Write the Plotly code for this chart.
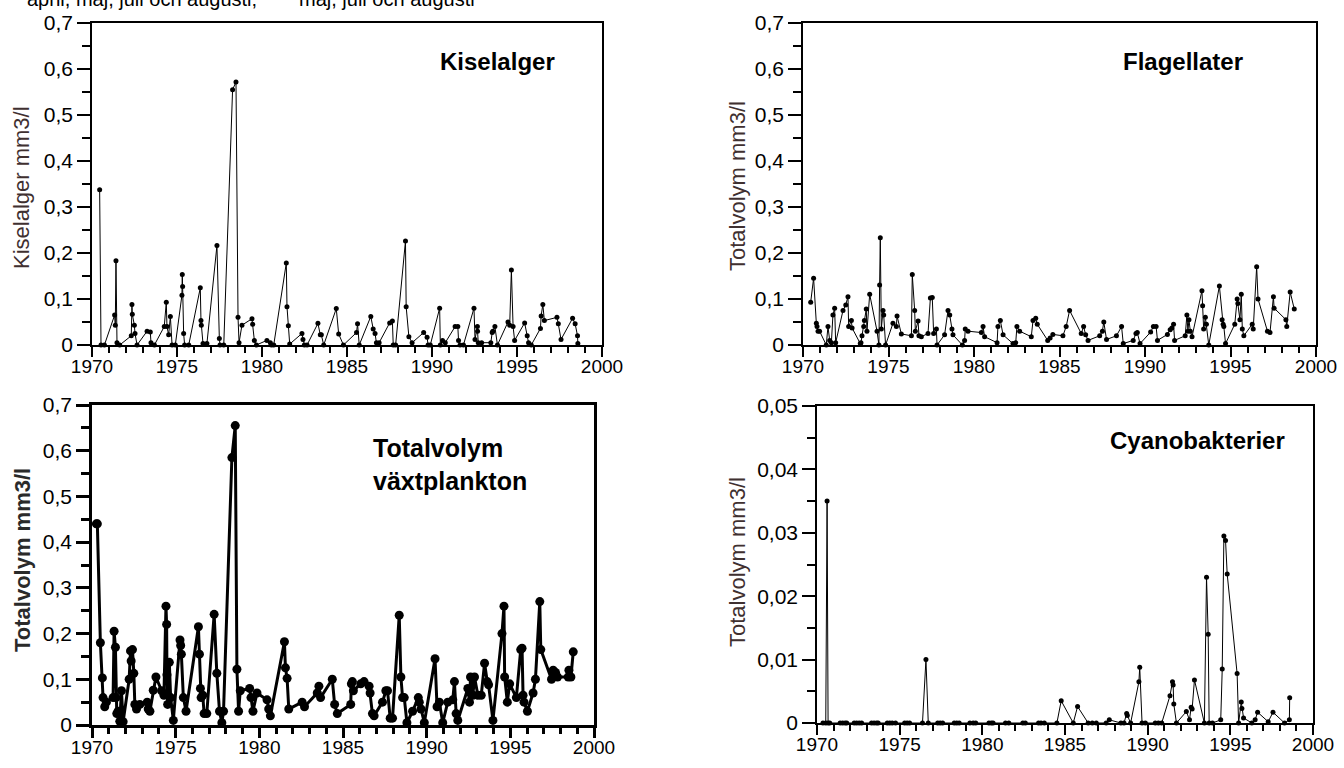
import plotly.graph_objects as go

# ---------------- data ----------------
kisel_year = [
    1970.45, 1970.53, 1970.73,
    1971.33, 1971.37, 1971.41, 1971.47, 1971.63,
    1972.31, 1972.35, 1972.37, 1972.49, 1972.53, 1972.65,
    1973.24, 1973.43, 1973.47, 1973.67,
    1974.25, 1974.37, 1974.41, 1974.51, 1974.61, 1974.71, 1974.90,
    1975.29, 1975.31, 1975.33, 1975.39, 1975.45, 1975.69,
    1976.37, 1976.41, 1976.43, 1976.53, 1976.76,
    1977.35, 1977.49, 1977.53, 1977.75,
    1978.27, 1978.47, 1978.59, 1978.65, 1978.82,
    1979.41, 1979.45, 1979.55, 1979.67,
    1980.29, 1980.49, 1980.55, 1980.69,
    1981.43, 1981.47, 1981.55, 1981.63,
    1982.35, 1982.41, 1982.49, 1982.65,
    1983.29, 1983.43, 1983.49, 1983.63,
    1984.37, 1984.51, 1984.79,
    1985.56, 1985.62, 1985.72,
    1986.40, 1986.54, 1986.65, 1986.73, 1986.89,
    1987.51, 1987.67, 1987.72, 1987.86,
    1988.44, 1988.48, 1988.64, 1988.83,
    1989.51, 1989.71, 1989.77, 1989.90,
    1990.45, 1990.49, 1990.62, 1990.78,
    1991.36, 1991.52, 1991.56, 1991.65, 1991.85,
    1992.47, 1992.53, 1992.67, 1992.68, 1992.72, 1992.92,
    1993.46, 1993.54, 1993.58, 1993.70, 1993.85,
    1994.47, 1994.57, 1994.67, 1994.77, 1994.86,
    1995.45, 1995.60, 1995.68, 1995.84,
    1996.38, 1996.42, 1996.52, 1996.61,
    1997.35, 1997.43, 1997.59,
    1998.27, 1998.42, 1998.56, 1998.58,
]
kisel_val = [
    0.337, 0.0, 0.0,
    0.065, 0.043, 0.183, 0.005, 0.0,
    0.02, 0.088, 0.067, 0.043, 0.025, 0.0,
    0.03, 0.028, 0.005, 0.0,
    0.04, 0.093, 0.04, 0.022, 0.062, 0.0, 0.0,
    0.108, 0.153, 0.127, 0.025, 0.0, 0.0,
    0.124, 0.053, 0.043, 0.003, 0.003,
    0.216, 0.014, 0.0, 0.0,
    0.554, 0.571, 0.06, 0.005, 0.043,
    0.057, 0.045, 0.01, 0.0,
    0.01, 0.005, 0.0, 0.0,
    0.178, 0.083, 0.042, 0.002,
    0.025, 0.012, 0.0, 0.0,
    0.047, 0.022, 0.022, 0.0,
    0.079, 0.024, 0.0,
    0.027, 0.046, 0.0,
    0.062, 0.035, 0.025, 0.005, 0.005,
    0.048, 0.052, 0.0, 0.0,
    0.226, 0.083, 0.018, 0.005,
    0.027, 0.017, 0.0, 0.0,
    0.08, 0.0, 0.01, 0.005,
    0.04, 0.04, 0.01, 0.0, 0.0,
    0.08, 0.012, 0.04, 0.03, 0.005, 0.005,
    0.005, 0.027, 0.03, 0.04, 0.0,
    0.05, 0.043, 0.163, 0.04, 0.01,
    0.048, 0.02, 0.005, 0.0,
    0.036, 0.063, 0.088, 0.053,
    0.06, 0.046, 0.012,
    0.058, 0.046, 0.02, 0.003,
]

flag_year = [
    1970.45, 1970.62, 1970.78, 1970.82, 1970.88, 1970.97,
    1971.36, 1971.46, 1971.56, 1971.66, 1971.75, 1971.85, 1971.91,
    1972.34, 1972.50, 1972.63, 1972.67, 1972.83, 1972.87,
    1973.35, 1973.39, 1973.45, 1973.55, 1973.59, 1973.70, 1973.74, 1973.90,
    1974.33, 1974.44, 1974.48, 1974.52, 1974.58, 1974.68, 1974.72, 1974.83,
    1975.26, 1975.46, 1975.50, 1975.75,
    1976.34, 1976.39, 1976.53, 1976.57, 1976.73, 1976.78, 1976.92,
    1977.31, 1977.45, 1977.56, 1977.64, 1977.80, 1977.84,
    1978.28, 1978.48, 1978.58, 1978.71, 1978.77,
    1979.32, 1979.45, 1979.49, 1979.65,
    1980.43, 1980.53, 1980.62,
    1981.35, 1981.40, 1981.54, 1981.70,
    1982.28, 1982.44, 1982.51, 1982.67,
    1983.35, 1983.45, 1983.61, 1983.70,
    1984.31, 1984.45, 1984.61,
    1985.20, 1985.39, 1985.59,
    1986.27, 1986.41, 1986.53, 1986.67,
    1987.35, 1987.51, 1987.59, 1987.75,
    1988.33, 1988.63, 1988.73,
    1989.31, 1989.47, 1989.55, 1989.71,
    1990.33, 1990.49, 1990.65, 1990.73,
    1991.31, 1991.47, 1991.57, 1991.67, 1991.73,
    1992.35, 1992.45, 1992.51, 1992.57, 1992.65, 1992.75,
    1993.33, 1993.37, 1993.43, 1993.53, 1993.59, 1993.73,
    1994.35, 1994.51, 1994.57, 1994.61, 1994.71,
    1995.25, 1995.39, 1995.43, 1995.55, 1995.63, 1995.69, 1995.78,
    1996.27, 1996.33, 1996.53, 1996.61,
    1997.16, 1997.31, 1997.51, 1997.55,
    1998.24, 1998.29, 1998.49, 1998.73,
]
flag_val = [
    0.093, 0.145, 0.047, 0.04, 0.03, 0.03,
    0.0, 0.04, 0.01, 0.005, 0.065, 0.08, 0.005,
    0.075, 0.087, 0.105, 0.04, 0.053, 0.037,
    0.003, 0.005, 0.02, 0.04, 0.053, 0.078, 0.03, 0.11,
    0.03, 0.0, 0.13, 0.233, 0.035, 0.075, 0.065, 0.0,
    0.047, 0.04, 0.063, 0.024,
    0.02, 0.153, 0.075, 0.03, 0.052, 0.02, 0.018,
    0.025, 0.102, 0.103, 0.025, 0.035, 0.0,
    0.022, 0.075, 0.065, 0.035, 0.022,
    0.0, 0.01, 0.035, 0.03,
    0.027, 0.04, 0.018,
    0.005, 0.04, 0.053, 0.022,
    0.003, 0.005, 0.04, 0.03,
    0.018, 0.053, 0.058, 0.045,
    0.01, 0.015, 0.023,
    0.02, 0.04, 0.075,
    0.025, 0.04, 0.022, 0.01,
    0.02, 0.03, 0.05, 0.012,
    0.02, 0.04, 0.003,
    0.01, 0.025, 0.027, 0.003,
    0.028, 0.04, 0.04, 0.01,
    0.023, 0.033, 0.037, 0.045, 0.01,
    0.02, 0.065, 0.03, 0.055, 0.03, 0.018,
    0.118, 0.085, 0.035, 0.06, 0.045, 0.0,
    0.128, 0.055, 0.045, 0.04, 0.003,
    0.045, 0.1, 0.09, 0.055, 0.11, 0.035, 0.02,
    0.045, 0.035, 0.17, 0.1,
    0.03, 0.027, 0.105, 0.08,
    0.055, 0.04, 0.115, 0.078,
]

total_year = [
    1970.26, 1970.32, 1970.50, 1970.62, 1970.66, 1970.76, 1970.86,
    1971.26, 1971.32, 1971.40, 1971.44, 1971.48, 1971.56, 1971.66, 1971.76, 1971.86,
    1972.22, 1972.30, 1972.34, 1972.42, 1972.50, 1972.56, 1972.66, 1972.86,
    1973.30, 1973.36, 1973.46, 1973.66, 1973.82,
    1974.16, 1974.30, 1974.42, 1974.46, 1974.48, 1974.52, 1974.62, 1974.70, 1974.86,
    1975.26, 1975.30, 1975.34, 1975.46, 1975.62,
    1976.36, 1976.42, 1976.48, 1976.52, 1976.62, 1976.70, 1976.86,
    1977.30, 1977.46, 1977.62, 1977.76, 1977.86,
    1978.36, 1978.56, 1978.66, 1978.76, 1978.86,
    1979.42, 1979.50, 1979.62, 1979.86,
    1980.46, 1980.56, 1980.66,
    1981.50, 1981.56, 1981.66, 1981.76,
    1982.56, 1982.70,
    1983.46, 1983.56, 1983.66,
    1984.36, 1984.50, 1984.66,
    1985.46, 1985.50, 1985.56, 1985.62,
    1986.06, 1986.26, 1986.56, 1986.62, 1986.76, 1986.86,
    1987.36, 1987.56, 1987.66, 1987.82, 1987.96,
    1988.36, 1988.46, 1988.56, 1988.66, 1988.82,
    1989.16, 1989.50, 1989.56, 1989.66, 1989.86,
    1990.50, 1990.62, 1990.76, 1990.96,
    1991.26, 1991.56, 1991.66, 1991.76, 1991.86,
    1992.46, 1992.56, 1992.62, 1992.76, 1992.86,
    1993.06, 1993.26, 1993.46, 1993.62, 1993.70, 1993.96,
    1994.50, 1994.62, 1994.66, 1994.82, 1994.96,
    1995.36, 1995.62, 1995.70, 1995.76, 1995.82,
    1996.02, 1996.36, 1996.50, 1996.76, 1996.82,
    1997.46, 1997.56, 1997.70, 1997.82,
    1998.46, 1998.50, 1998.62, 1998.76,
]
total_val = [
    0.44, 0.44, 0.18, 0.103, 0.06, 0.04, 0.05,
    0.06, 0.205, 0.17, 0.06, 0.025, 0.03, 0.008, 0.075, 0.007,
    0.1, 0.162, 0.14, 0.165, 0.113, 0.045, 0.035, 0.045,
    0.05, 0.035, 0.03, 0.076, 0.105,
    0.075, 0.065, 0.26, 0.22, 0.11, 0.045, 0.137, 0.06, 0.01,
    0.186, 0.174, 0.155, 0.06, 0.03,
    0.215, 0.155, 0.08, 0.06, 0.065, 0.025, 0.025,
    0.242, 0.113, 0.03, 0.005, 0.03,
    0.585, 0.655, 0.122, 0.03, 0.075,
    0.08, 0.06, 0.03, 0.07,
    0.055, 0.035, 0.02,
    0.182, 0.125, 0.102, 0.035,
    0.05, 0.04,
    0.07, 0.085, 0.06,
    0.1, 0.045, 0.025,
    0.045, 0.09, 0.095, 0.075,
    0.09, 0.095, 0.085, 0.07, 0.025, 0.02,
    0.05, 0.075, 0.075, 0.015, 0.015,
    0.24, 0.105, 0.06, 0.06, 0.005,
    0.03, 0.06, 0.05, 0.035, 0.005,
    0.145, 0.04, 0.05, 0.005,
    0.05, 0.055, 0.095, 0.025, 0.01,
    0.08, 0.05, 0.105, 0.065, 0.105,
    0.065, 0.065, 0.135, 0.095, 0.088, 0.01,
    0.2, 0.26, 0.105, 0.05, 0.09,
    0.06, 0.165, 0.168, 0.065, 0.05,
    0.03, 0.07, 0.1, 0.27, 0.165,
    0.1, 0.12, 0.115, 0.105,
    0.105, 0.12, 0.105, 0.16,
]

cyano_year = [
    1970.36, 1970.53, 1970.61, 1970.67, 1970.77,
    1971.40, 1971.55, 1971.70, 1971.80,
    1972.25, 1972.40, 1972.55, 1972.70,
    1973.30, 1973.45, 1973.60, 1973.70,
    1974.25, 1974.40, 1974.55, 1974.75,
    1975.30, 1975.45, 1975.60,
    1976.38, 1976.59, 1976.73,
    1977.30, 1977.45, 1977.60,
    1978.30, 1978.45, 1978.60,
    1979.25, 1979.45, 1979.60,
    1980.40, 1980.55, 1980.65,
    1981.40, 1981.60,
    1982.45, 1982.60,
    1983.40, 1983.55, 1983.75,
    1984.51, 1984.77,
    1985.50, 1985.76,
    1986.40, 1986.65, 1986.89,
    1987.49, 1987.68,
    1988.38, 1988.57, 1988.73, 1988.77, 1988.97,
    1989.47, 1989.52, 1989.66, 1989.86,
    1990.46, 1990.65, 1990.85,
    1991.35, 1991.50, 1991.54, 1991.58, 1991.74,
    1992.34, 1992.53, 1992.63, 1992.69, 1992.83,
    1993.43, 1993.56, 1993.66, 1993.72, 1993.92,
    1994.42, 1994.51, 1994.61, 1994.71, 1994.81,
    1995.41, 1995.50, 1995.66, 1995.70, 1995.80,
    1996.30, 1996.50, 1996.65,
    1997.29, 1997.58,
    1998.28, 1998.57, 1998.59,
]
cyano_val = [
    0.0, 0.0, 0.035, 0.0, 0.0,
    0.0, 0.0, 0.0, 0.0,
    0.0, 0.0, 0.0, 0.0,
    0.0, 0.0, 0.0, 0.0,
    0.0, 0.0, 0.0, 0.0,
    0.0, 0.0, 0.0,
    0.0, 0.01, 0.0,
    0.0, 0.0, 0.0,
    0.0, 0.0, 0.0,
    0.0, 0.0, 0.0,
    0.0, 0.0, 0.0,
    0.0, 0.0,
    0.0, 0.0,
    0.0, 0.0, 0.0,
    0.0, 0.0035,
    0.0, 0.0026,
    0.0, 0.0, 0.0,
    0.0, 0.0005,
    0.0, 0.0, 0.0015, 0.0012, 0.0,
    0.0065, 0.0088, 0.0, 0.0,
    0.0, 0.0, 0.0,
    0.0043, 0.0065, 0.006, 0.003, 0.0,
    0.0018, 0.0005, 0.0025, 0.0022, 0.0068,
    0.0, 0.023, 0.014, 0.0, 0.0,
    0.0005, 0.0085, 0.0295, 0.0288, 0.0235,
    0.0078, 0.0, 0.0033, 0.0023, 0.0008,
    0.0, 0.0005, 0.0017,
    0.0002, 0.0017,
    0.0, 0.0005, 0.004,
]

x_tick_vals = [1970, 1975, 1980, 1985, 1990, 1995, 2000]
x_tick_text = ["1970", "1975", "1980", "1985", "1990", "1995", "2000"]
y_tick_vals = [0, 0.1, 0.2, 0.3, 0.4, 0.5, 0.6, 0.7]
y_tick_text = ["0", "0,1", "0,2", "0,3", "0,4", "0,5", "0,6", "0,7"]
cy_tick_vals = [0, 0.01, 0.02, 0.03, 0.04, 0.05]
cy_tick_text = ["0", "0,01", "0,02", "0,03", "0,04", "0,05"]

# ---------------- layout helpers ----------------
W, H = 1344, 768
FONT = "Liberation Sans, Arial, sans-serif"


def fx(p):
    return p / W


def fy(p):
    return 1 - p / H


def make_x(domain, anchor, lw):
    return dict(
        domain=domain, anchor=anchor, range=[1970, 2000], automargin=False,
        tickmode="array", tickvals=x_tick_vals, ticktext=x_tick_text,
        ticks="outside", ticklen=10, tickwidth=lw, tickcolor="black",
        ticklabelstandoff=-7,
        showline=True, linecolor="black", linewidth=lw, mirror=True,
        showgrid=False, zeroline=False,
        tickfont=dict(family=FONT, size=19, color="black"),
        minor=dict(tickmode="linear", tick0=1970, dtick=1, ticks="outside",
                   ticklen=6, tickwidth=lw, tickcolor="black", showgrid=False),
    )


def make_y(domain, anchor, lw, rng, vals, text, minor_dtick):
    return dict(
        domain=domain, anchor=anchor, range=rng, automargin=False,
        tickmode="array", tickvals=vals, ticktext=text,
        ticks="outside", ticklen=13, tickwidth=lw, tickcolor="black",
        showline=True, linecolor="black", linewidth=lw, mirror=True,
        showgrid=False, zeroline=False,
        tickfont=dict(family=FONT, size=21, color="black"),
        minor=dict(tickmode="linear", tick0=0, dtick=minor_dtick, ticks="outside",
                   ticklen=8, tickwidth=lw, tickcolor="black", showgrid=False),
    )


fig = go.Figure()

fig.add_trace(go.Scatter(x=kisel_year, y=kisel_val, mode="lines+markers",
                         line=dict(color="black", width=1),
                         marker=dict(size=5, color="black"),
                         xaxis="x", yaxis="y", cliponaxis=False, showlegend=False))
fig.add_trace(go.Scatter(x=flag_year, y=flag_val, mode="lines+markers",
                         line=dict(color="black", width=1),
                         marker=dict(size=5, color="black"),
                         xaxis="x2", yaxis="y2", cliponaxis=False, showlegend=False))
fig.add_trace(go.Scatter(x=total_year, y=total_val, mode="lines+markers",
                         line=dict(color="black", width=3),
                         marker=dict(size=9, color="black"),
                         xaxis="x3", yaxis="y3", cliponaxis=False, showlegend=False))
fig.add_trace(go.Scatter(x=cyano_year, y=cyano_val, mode="lines+markers",
                         line=dict(color="black", width=1),
                         marker=dict(size=5, color="black"),
                         xaxis="x4", yaxis="y4", cliponaxis=False, showlegend=False))

TL_x = [fx(92), fx(602)]
TR_x = [fx(803), fx(1316)]
BL_x = [fx(92), fx(594)]
BR_x = [fx(817), fx(1313)]
TOP_y = [fy(345), fy(22.5)]
BL_y = [fy(725), fy(405)]
BR_y = [fy(723), fy(406)]

title_color = "#3f3030"
ann = [
    dict(text="Kiselalger", x=fx(497), y=fy(62), showarrow=False,
         xanchor="center", yanchor="middle",
         font=dict(family=FONT, size=24, color="black", weight="bold")),
    dict(text="Flagellater", x=fx(1183), y=fy(62), showarrow=False,
         xanchor="center", yanchor="middle",
         font=dict(family=FONT, size=24, color="black", weight="bold")),
    dict(text="Totalvolym<br>växtplankton", x=fx(371), y=fy(464), showarrow=False,
         xanchor="left", yanchor="middle", align="left",
         font=dict(family=FONT, size=25, color="black", weight="bold")),
    dict(text="Cyanobakterier", x=fx(1197), y=fy(440), showarrow=False,
         xanchor="center", yanchor="middle",
         font=dict(family=FONT, size=24, color="black", weight="bold")),
    dict(text="Kiselalger mm3/l", x=fx(22), y=fy(188), showarrow=False, textangle=-90,
         xanchor="center", yanchor="middle",
         font=dict(family=FONT, size=22, color=title_color)),
    dict(text="Totalvolym mm3/l", x=fx(737), y=fy(186), showarrow=False, textangle=-90,
         xanchor="center", yanchor="middle",
         font=dict(family=FONT, size=22, color=title_color)),
    dict(text="Totalvolym mm3/l", x=fx(22), y=fy(560), showarrow=False, textangle=-90,
         xanchor="center", yanchor="middle",
         font=dict(family=FONT, size=22, color="#2a2a2a", weight="bold")),
    dict(text="Totalvolym mm3/l", x=fx(737), y=fy(562), showarrow=False, textangle=-90,
         xanchor="center", yanchor="middle",
         font=dict(family=FONT, size=22, color=title_color)),
    dict(text="april, maj, juli och augusti;", x=fx(25), y=1, yshift=1,
         xref="paper", yref="paper", showarrow=False, xanchor="left", yanchor="middle",
         font=dict(family=FONT, size=20, color="black")),
    dict(text="maj, juli och augusti", x=fx(297), y=1, yshift=1,
         xref="paper", yref="paper", showarrow=False, xanchor="left", yanchor="middle",
         font=dict(family=FONT, size=20, color="black")),
]
for a in ann:
    a.setdefault("xref", "paper")
    a.setdefault("yref", "paper")

fig.update_layout(
    width=W, height=H,
    margin=dict(l=0, r=0, t=0, b=0, autoexpand=False),
    paper_bgcolor="white", plot_bgcolor="white",
    font=dict(family=FONT, color="black"),
    xaxis=make_x(TL_x, "y", 1.5),
    yaxis=make_y(TOP_y, "x", 1.5, [0, 0.7], y_tick_vals, y_tick_text, 0.05),
    xaxis2=make_x(TR_x, "y2", 1.5),
    yaxis2=make_y(TOP_y, "x2", 1.5, [0, 0.7], y_tick_vals, y_tick_text, 0.05),
    xaxis3=make_x(BL_x, "y3", 2.5),
    yaxis3=make_y(BL_y, "x3", 2.5, [0, 0.7], y_tick_vals, y_tick_text, 0.05),
    xaxis4=make_x(BR_x, "y4", 1.5),
    yaxis4=make_y(BR_y, "x4", 1.5, [0, 0.05], cy_tick_vals, cy_tick_text, 0.005),
    annotations=ann,
    showlegend=False,
)

fig.write_html("out.html")
